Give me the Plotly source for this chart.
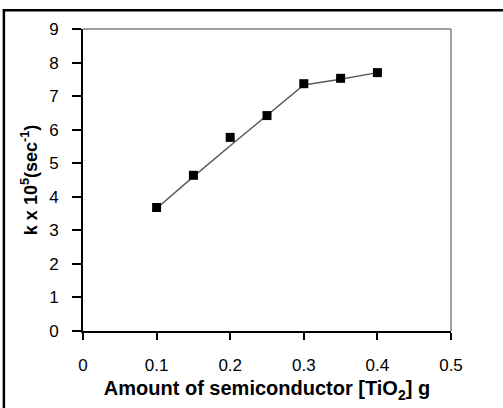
import plotly.graph_objects as go

x_vals = [0.1, 0.15, 0.2, 0.25, 0.3, 0.35, 0.4]
k_vals = [3.68, 4.64, 5.77, 6.42, 7.37, 7.53, 7.70]
fit_vals = [3.65, 4.60, 5.52, 6.42, 7.33, 7.50, 7.70]
x_ticks = [0, 0.1, 0.2, 0.3, 0.4, 0.5]
x_labels = ["0", "0.1", "0.2", "0.3", "0.4", "0.5"]
y_ticks = list(range(0, 10))

fig = go.Figure()
fig.add_trace(go.Scatter(x=x_vals, y=fit_vals, mode="lines",
                         line=dict(color="#5a5a5a", width=1.5), showlegend=False))
fig.add_trace(go.Scatter(x=x_vals, y=k_vals, mode="markers",
                         marker=dict(symbol="square", size=9, color="black"), showlegend=False))

font_reg = "Liberation Sans, Arial, sans-serif"
font_bold = "Liberation Sans, Arial, sans-serif"

fig.update_layout(
    width=503, height=408,
    margin=dict(l=83, r=52, t=29, b=77),
    paper_bgcolor="white", plot_bgcolor="white",
    xaxis=dict(range=[0, 0.5], tickvals=x_ticks, ticktext=x_labels,
               showgrid=False, zeroline=False, showline=True, linecolor="black", linewidth=2,
               ticks="outside", ticklen=7, tickwidth=2, tickcolor="black",
               tickfont=dict(family=font_reg, size=17, color="black"),
               ticklabelstandoff=11,
               title=dict(text="<b>Amount of semiconductor [TiO<sub>2</sub>] g</b>",
                          font=dict(family=font_bold, size=20, color="black"), standoff=7)),
    yaxis=dict(range=[0, 9], tickvals=y_ticks,
               showgrid=False, zeroline=False, showline=True, linecolor="black", linewidth=2,
               ticks="outside", ticklen=9, tickwidth=2, tickcolor="black",
               tickfont=dict(family=font_reg, size=17, color="black"),
               ticklabelstandoff=10,
               title=dict(text="<b>k x 10<sup>5</sup>(sec<sup>-1</sup>)</b>",
                          font=dict(family=font_bold, size=18, color="black"), standoff=7)),
    shapes=[
        dict(type="line", xref="paper", yref="paper", x0=0, x1=1, y0=1, y1=1,
             line=dict(color="#444", width=1)),
        dict(type="line", xref="paper", yref="paper", x0=1, x1=1, y0=0, y1=1,
             line=dict(color="#444", width=1)),
        dict(type="rect", xref="paper", yref="paper", x0=-0.215, x1=1.3, y0=-0.5, y1=1.062,
             line=dict(color="black", width=2.5), layer="above"),
    ],
)

fig.write_html("out.html")
